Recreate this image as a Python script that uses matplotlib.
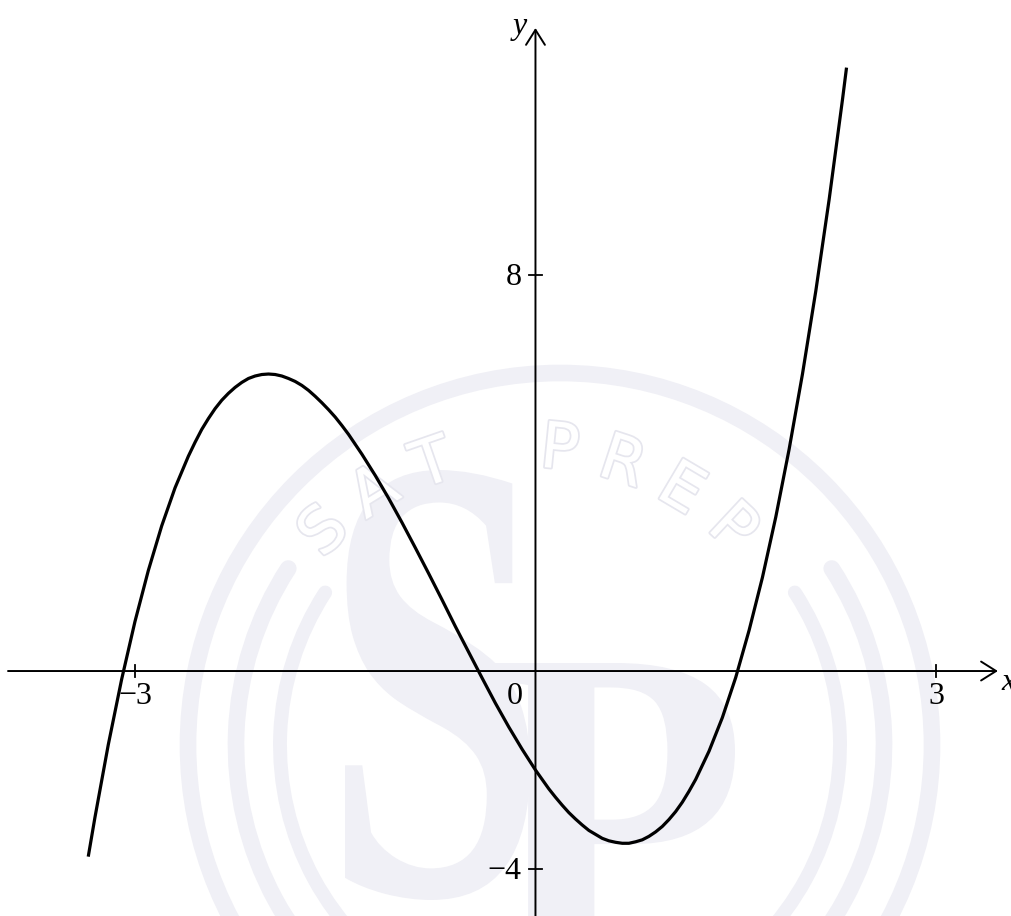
import matplotlib.pyplot as plt
from matplotlib.patches import Arc, Circle, PathPatch
from matplotlib.textpath import TextPath
from matplotlib.font_manager import FontProperties
from matplotlib.transforms import Affine2D
import matplotlib.patheffects as pe
import numpy as np

plt.rcParams['font.family'] = 'serif'
plt.rcParams['font.serif'] = ['Liberation Serif', 'DejaVu Serif']

# points
xs = [-3.35, -3.3, -3.2, -3.1, -3.0, -2.9, -2.8, -2.7, -2.6, -2.55, -2.5, -2.45, -2.4, -2.35,
      -2.3, -2.25, -2.2, -2.15, -2.1, -2.05, -2.0, -1.95, -1.9, -1.85, -1.8, -1.75, -1.7,
      -1.65, -1.6, -1.55, -1.5, -1.45, -1.4, -1.3, -1.2, -1.1, -1.0, -0.9, -0.8, -0.7,
      -0.6, -0.5, -0.4, -0.3, -0.2, -0.1, 0.0, 0.05, 0.1, 0.15, 0.2, 0.25, 0.3, 0.35,
      0.4, 0.45, 0.5, 0.55, 0.6, 0.65, 0.7, 0.75, 0.8, 0.85, 0.9, 0.95, 1.0, 1.05,
      1.1, 1.15, 1.2, 1.3, 1.4, 1.5, 1.6, 1.7, 1.8, 1.9, 2.0, 2.1, 2.2, 2.3, 2.33]
ys = [-3.75, -2.96, -1.49, -0.17, 1.00, 2.03, 2.93, 3.70, 4.34, 4.62, 4.88, 5.10, 5.30, 5.47,
      5.61, 5.73, 5.83, 5.91, 5.96, 5.99, 6.00, 5.99, 5.96, 5.91, 5.85, 5.77, 5.67,
      5.55, 5.42, 5.28, 5.13, 4.96, 4.78, 4.38, 3.95, 3.49, 3.00, 2.49, 1.97, 1.44,
      0.90, 0.38, -0.14, -0.65, -1.13, -1.58, -2.00, -2.19, -2.38, -2.55, -2.71, -2.86, -2.99, -3.11,
      -3.22, -3.30, -3.38, -3.43, -3.46, -3.48, -3.48, -3.45, -3.41, -3.34, -3.25, -3.14, -3.00, -2.84,
      -2.65, -2.43, -2.19, -1.62, -0.94, -0.13, 0.82, 1.89, 3.11, 4.48, 6.00, 7.68, 9.53, 11.55, 12.19]

x_ticks = [-3, 3]
x_tick_labels = ['\u22123', '3']
y_ticks = [8, -4]
y_tick_labels = ['8', '\u22124']

W, H = 1011, 916

fig = plt.figure(figsize=(W / 100, H / 100), dpi=100)

# faint logo behind the graph, drawn in pixel units (origin bottom-left)
bg = fig.add_axes([0, 0, 1, 1], zorder=0)
bg.set_xlim(0, W)
bg.set_ylim(0, H)
bg.axis('off')
wm = '#f0f0f6'


def logo_letter(ch, x0, x1, top, bottom):
    p = TextPath((0, 0), ch, size=100, prop=FontProperties(family='Liberation Serif', weight='bold'))
    ext = p.get_extents()
    tr = (Affine2D().translate(-ext.x0, -ext.y0)
          .scale((x1 - x0) / ext.width, (bottom - top) / ext.height)
          .translate(x0, H - bottom))
    bg.add_patch(PathPatch(tr.transform_path(p), fc=wm, lw=0))


cx, cy = 560, H - 745
bg.add_patch(Circle((cx, cy), 372, fill=False, lw=12, ec=wm))
for r, w in [(324, 12), (280, 10)]:
    bg.add_patch(Arc((cx, cy), 2 * r, 2 * r, theta1=147, theta2=393, lw=w,
                     color=wm, capstyle='round'))
word = 'SAT PREP'
for ch, a in zip(word, np.linspace(134, 47, len(word))):
    t = np.radians(a)
    bg.text(530 + 296 * np.cos(t), H - 745 + 296 * np.sin(t), ch, rotation=a - 90,
            ha='center', va='center', fontsize=46, color='white', family='DejaVu Sans',
            path_effects=[pe.withStroke(linewidth=2.5, foreground='#e6e6ee')])
logo_letter('S', 345, 530, 470, 900)
logo_letter('P', 492, 735, 663, 961)

ax = fig.add_axes([0, 0, 1, 1], zorder=1)
ax.patch.set_alpha(0)
ax.set_xlim(-4.011, 3.562)
ax.set_ylim(-4.949, 13.556)
ax.axis('off')

arrow = dict(arrowstyle='->,head_length=0.54,head_width=0.34', mutation_scale=20,
             lw=1.4, color='black', shrinkA=0, shrinkB=0)
ax.annotate('', xy=(3.464, 0), xytext=(-3.951, 0), arrowprops=arrow)
ax.annotate('', xy=(0, 12.99), xytext=(0, -4.949), arrowprops=arrow)

for t, lbl in zip(x_ticks, x_tick_labels):
    ax.plot([t, t], [-0.12, 0.12], color='black', lw=1.3)
    ax.annotate(lbl, (t, 0), xytext=(0, -18), textcoords='offset points',
                ha='center', va='center', fontsize=23)
for t, lbl in zip(y_ticks, y_tick_labels):
    ax.plot([-0.052, 0.052], [t, t], color='black', lw=1.3)
    ax.annotate(lbl, (0, t), xytext=(-10, -1.8), textcoords='offset points',
                ha='right', va='center', fontsize=23)
ax.annotate('0', (0, 0), xytext=(-14.8, -18.7), textcoords='offset points',
            ha='center', va='center', fontsize=23)

ax.text(3.487, -0.384, 'x', ha='left', va='baseline', fontsize=23, style='italic')
ax.text(-0.116, 12.87, 'y', ha='center', va='baseline', fontsize=23, style='italic')

ax.plot(xs, ys, color='black', lw=2.3, solid_capstyle='butt', solid_joinstyle='round')

fig.savefig('out.png', dpi=100)
